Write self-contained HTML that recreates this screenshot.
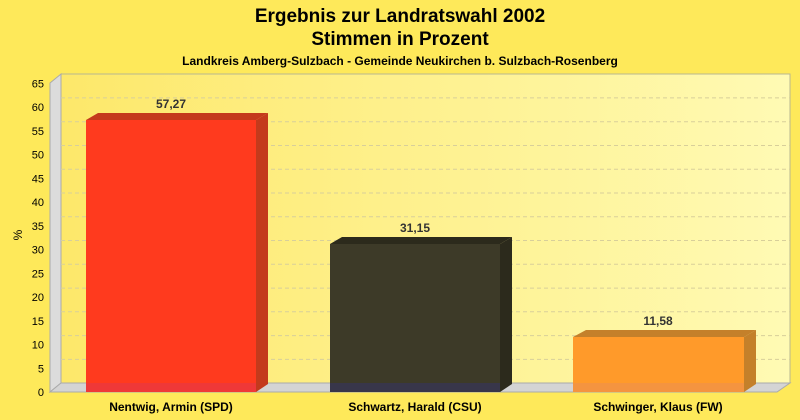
<!DOCTYPE html>
<html><head><style>html,body{margin:0;padding:0;overflow:hidden;background:#fee95a;width:800px;height:420px}svg{display:block}</style></head><body>
<svg width="800" height="420" viewBox="0 0 800 420" xmlns="http://www.w3.org/2000/svg" font-family="Liberation Sans, sans-serif">
<defs>
<linearGradient id="bg" x1="0" x2="1" y1="0" y2="0"><stop offset="0" stop-color="#fde86a"/><stop offset="1" stop-color="#fffab4"/></linearGradient>
</defs>
<rect width="800" height="420" fill="#fee95a"/>
<text x="400" y="22" font-size="19" font-weight="bold" text-anchor="middle">Ergebnis zur Landratswahl 2002</text>
<text x="400" y="45" font-size="19" font-weight="bold" text-anchor="middle">Stimmen in Prozent</text>
<text x="400" y="65" font-size="12" font-weight="bold" text-anchor="middle">Landkreis Amberg-Sulzbach - Gemeinde Neukirchen b. Sulzbach-Rosenberg</text>
<rect x="61" y="74" width="729" height="309" fill="url(#bg)" stroke="#b8b890" stroke-width="1"/>
<polygon points="50,83 61,74 61,383 50,392" fill="#dcdcdc" stroke="#aaa" stroke-width="1"/>
<polygon points="50,392 61,383 790,383 777,392" fill="#d4d4d4" stroke="#aaa" stroke-width="1"/>
<g stroke="#d8cf9a" stroke-dasharray="4,3" stroke-width="1">
<line x1="61" x2="790" y1="97.9" y2="97.9"/><line x1="61" x2="790" y1="121.7" y2="121.7"/><line x1="61" x2="790" y1="145.5" y2="145.5"/><line x1="61" x2="790" y1="169.2" y2="169.2"/><line x1="61" x2="790" y1="193" y2="193"/><line x1="61" x2="790" y1="216.8" y2="216.8"/><line x1="61" x2="790" y1="240.5" y2="240.5"/><line x1="61" x2="790" y1="264.3" y2="264.3"/><line x1="61" x2="790" y1="288.1" y2="288.1"/><line x1="61" x2="790" y1="311.8" y2="311.8"/><line x1="61" x2="790" y1="335.6" y2="335.6"/><line x1="61" x2="790" y1="359.4" y2="359.4"/>
</g>
<g font-size="11" text-anchor="end">
<text x="44" y="396">0</text><text x="44" y="372.5">5</text><text x="44" y="348.7">10</text><text x="44" y="325">15</text><text x="44" y="301">20</text><text x="44" y="277.5">25</text><text x="44" y="253.7">30</text><text x="44" y="230">35</text><text x="44" y="206">40</text><text x="44" y="182.5">45</text><text x="44" y="158.7">50</text><text x="44" y="135">55</text><text x="44" y="111">60</text><text x="44" y="87.5">65</text>
</g>
<text x="22" y="235" font-size="12" transform="rotate(-90 22 235)" text-anchor="middle">%</text>
<polygon points="86,120 98,113 268,113 256,120" fill="#c43a1c"/>
<polygon points="256,120 268,113 268,384 256,392" fill="#c43a1c"/>
<rect x="86" y="120" width="170" height="272" fill="#ff3a1e"/>
<rect x="86" y="383" width="170" height="9" fill="#ef3838"/>
<polygon points="330,244 342,237 512,237 500,244" fill="#2c2a1c"/>
<polygon points="500,244 512,237 512,384 500,392" fill="#2c2a1c"/>
<rect x="330" y="244" width="170" height="148" fill="#3d3a28"/>
<rect x="330" y="383" width="170" height="9" fill="#38364a"/>
<polygon points="573,337 586,330 756,330 744,337" fill="#c4802a"/>
<polygon points="744,337 756,330 756,384 744,392" fill="#c4802a"/>
<rect x="573" y="337" width="171" height="55" fill="#ff9a2a"/>
<rect x="573" y="383" width="171" height="9" fill="#f49440"/>
<g font-size="12" font-weight="bold" fill="#333" text-anchor="middle">
<text x="171" y="108">57,27</text><text x="415" y="232">31,15</text><text x="658" y="325">11,58</text>
</g>
<g font-size="12" font-weight="bold" text-anchor="middle">
<text x="171" y="411">Nentwig, Armin (SPD)</text><text x="415" y="411">Schwartz, Harald (CSU)</text><text x="658" y="411">Schwinger, Klaus (FW)</text>
</g>
</svg>
</body></html>
